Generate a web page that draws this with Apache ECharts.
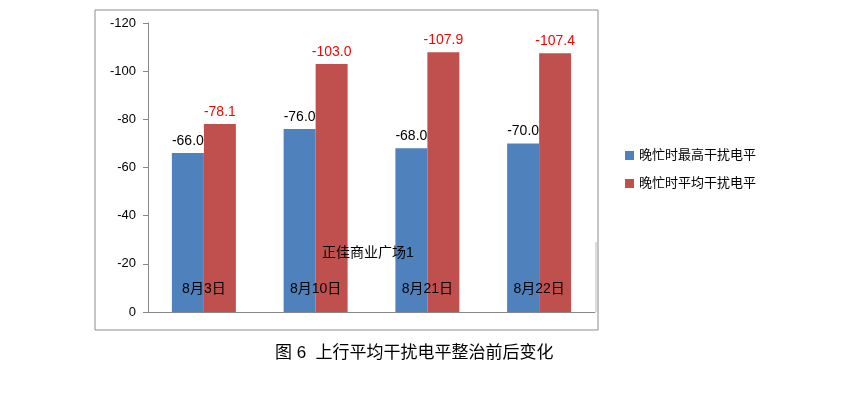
<!DOCTYPE html>
<html><head><meta charset="utf-8">
<script src="https://cdn.jsdelivr.net/npm/echarts@6/dist/echarts.min.js"></script>
<style>body{margin:0;background:#fff}#c{width:860px;height:402px}</style>
</head><body><div id="c"></div>
<script>
var categories = ['8月3日', '8月10日', '8月21日', '8月22日'];
var maxLevel = [-66.0, -76.0, -68.0, -70.0];
var avgLevel = [-78.1, -103.0, -107.9, -107.4];
var yTicks = [0, -20, -40, -60, -80, -100, -120];

var chart = echarts.init(document.getElementById('c'));
var font = 'Liberation Sans, "Noto Sans CJK SC", sans-serif';
chart.setOption({
  animation: false,
  textStyle: { fontFamily: font },
  graphic: [
    { type: 'rect', z: 100, shape: { x: 95, y: 10, width: 503, height: 320 }, style: { fill: 'none', stroke: '#8c8c8c', lineWidth: 1 } },
    { type: 'text', z: 100, left: 322, top: 246, style: { text: '正佳商业广场1', fontSize: 14, fill: '#000', fontFamily: font } },
    { type: 'line', z: 100, shape: { x1: 596, y1: 242, x2: 596, y2: 312 }, style: { stroke: '#bbb' } },
    { type: 'text', z: 100, left: 275, top: 345, style: { text: '图 6  上行平均干扰电平整治前后变化', fontSize: 17, fill: '#000', fontFamily: font } }
  ],
  legend: {
    orient: 'vertical', left: 620, top: 144, itemGap: 15,
    itemWidth: 9, itemHeight: 9, icon: 'rect',
    textStyle: { fontSize: 13, color: '#000' },
    data: ['晚忙时最高干扰电平', '晚忙时平均干扰电平']
  },
  grid: { left: 148, top: 23, width: 447, height: 289 },
  xAxis: {
    type: 'category', data: categories, z: 50,
    axisLine: { lineStyle: { color: '#888' } },
    axisTick: { inside: true, length: 34, lineStyle: { color: '#aaa' } },
    axisLabel: { inside: true, margin: 16, color: '#000', fontSize: 14 }
  },
  yAxis: {
    type: 'value', inverse: true, min: -120, max: 0, interval: 20,
    axisLine: { show: true, lineStyle: { color: '#888' } },
    axisTick: { show: true, lineStyle: { color: '#888' } },
    axisLabel: { color: '#000', fontSize: 13, margin: 12,
      formatter: function (v) { return yTicks.indexOf(v) >= 0 ? String(v) : ''; } },
    splitLine: { show: false }
  },
  series: [
    { name: '晚忙时最高干扰电平', type: 'bar', data: maxLevel, barWidth: 32, barGap: '0%',
      itemStyle: { color: '#4F81BD' },
      label: { show: true, position: 'top', color: '#000', fontSize: 14, formatter: function (p) { return p.value.toFixed(1); } } },
    { name: '晚忙时平均干扰电平', type: 'bar', data: avgLevel, barWidth: 32,
      itemStyle: { color: '#C0504D' },
      label: { show: true, position: 'top', color: '#ff0000', fontSize: 14, formatter: function (p) { return p.value.toFixed(1); } } }
  ]
});
</script></body></html>
